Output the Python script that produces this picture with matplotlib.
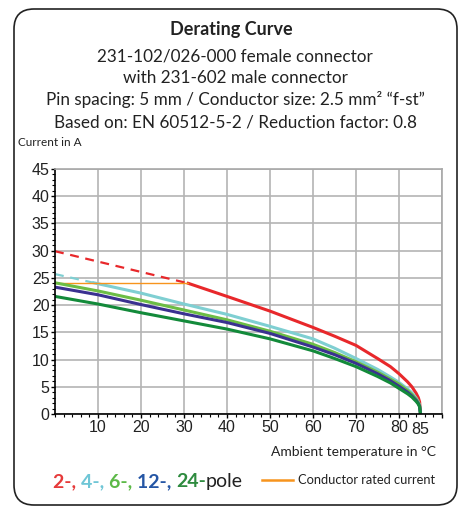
import matplotlib
matplotlib.use("Agg")
import matplotlib.pyplot as plt
from matplotlib.patches import FancyBboxPatch
from matplotlib.ticker import MultipleLocator

# Derating curve data
t_red_dash = [0, 31]
i_red_dash = [29.9, 24.0]
t_red = [31, 40, 50, 60, 65, 70, 75, 78, 80, 82, 83, 84, 84.5, 84.8, 85]
i_red = [24.0, 21.6, 18.9, 15.9, 14.3, 12.6, 10.2, 8.7, 7.4, 5.9, 5.0, 3.8, 3.0, 2.2, 0]

t_cyan_dash = [0, 9]
i_cyan_dash = [25.7, 24.1]
t_cyan = [9, 20, 30, 40, 50, 60, 65, 70, 75, 78, 80, 82, 83, 84, 84.5, 84.8, 85]
i_cyan = [24.1, 22.2, 20.2, 18.3, 16.1, 13.8, 12.1, 10.2, 8.2, 6.8, 5.8, 4.6, 3.9, 2.9, 2.2, 1.6, 0]

t_pole = [0, 10, 20, 30, 40, 50, 60, 65, 70, 75, 78, 80, 82, 83, 84, 84.5, 84.8, 85]
i_6 = [24.1, 22.6, 20.9, 19.1, 17.3, 15.2, 12.8, 11.3, 9.6, 7.7, 6.4, 5.5, 4.3, 3.6, 2.7, 2.1, 1.5, 0]
i_12 = [23.3, 21.9, 20.1, 18.4, 16.8, 14.8, 12.3, 10.9, 9.3, 7.4, 6.1, 5.1, 4.0, 3.3, 2.5, 1.9, 1.4, 0]
i_24 = [21.6, 20.2, 18.6, 17.1, 15.6, 13.8, 11.6, 10.2, 8.7, 6.9, 5.7, 4.7, 3.7, 3.1, 2.3, 1.8, 1.3, 0]

t_rated = [0, 31]
i_rated = [24, 24]

x_ticks = [10, 20, 30, 40, 50, 60, 70, 80, 90]
x_labels = ["10", "20", "30", "40", "50", "60", "70", "80", ""]
y_ticks = [0, 5, 10, 15, 20, 25, 30, 35, 40, 45]

c_red = "#e8282b"
c_cyan = "#7fcfd2"
c_green = "#6cbd45"
c_purple = "#3a3190"
c_dgreen = "#138a3a"
c_orange = "#f7941d"
c_text = "#222222"

hfont = "Lato"

fig = plt.figure(figsize=(4.63, 5.07), dpi=100)

# cadre arrondi
box = FancyBboxPatch((0.14, 0.02), 4.43, 4.96, boxstyle="round,pad=0,rounding_size=0.2",
                     transform=fig.dpi_scale_trans, fill=False, edgecolor=c_text, linewidth=1.2)
fig.patches.append(box)

fig.text(0.5, 1 - 30/507, "Derating Curve", ha="center", va="center", fontsize=13,
         fontweight="bold", family=hfont, color=c_text)
sub = ["231-102/026-000 female connector",
       "with 231-602 male connector",
       "Pin spacing: 5 mm / Conductor size: 2.5 mm\u00b2 \u201cf-st\u201d",
       "Based on: EN 60512-5-2 / Reduction factor: 0.8"]
for k, s in enumerate(sub):
    fig.text(0.508, 1 - (56 + k*22)/507, s, ha="center", va="center", fontsize=12.3,
             family=hfont, color=c_text)
fig.text(18/463, 1 - 143/507, "Current in A", ha="left", va="center", fontsize=8.5,
         family=hfont, color=c_text)

ax = fig.add_axes([55/463, 1 - 414/507, (442 - 55)/463, (414 - 169)/507])
ax.plot(t_red_dash, i_red_dash, color=c_red, lw=1.6, dashes=(4, 3))
ax.plot(t_red, i_red, color=c_red, lw=2.2)
ax.plot(t_cyan_dash, i_cyan_dash, color=c_cyan, lw=1.6, dashes=(4, 3))
ax.plot(t_cyan, i_cyan, color=c_cyan, lw=2.2)
ax.plot(t_rated, i_rated, color=c_orange, lw=1.0)
ax.plot(t_pole, i_6, color=c_green, lw=2.2)
ax.plot(t_pole, i_12, color=c_purple, lw=2.2)
ax.plot(t_pole, i_24, color=c_dgreen, lw=2.2)

ax.set_xlim(0, 90)
ax.set_ylim(0, 45)
ax.set_xticks(x_ticks)
ax.set_xticklabels(x_labels)
ax.set_yticks(y_ticks)
ax.xaxis.set_minor_locator(MultipleLocator(2))
ax.yaxis.set_minor_locator(MultipleLocator(1))
for s in ["top", "right"]:
    ax.spines[s].set_color("#a8a8a8")
    ax.spines[s].set_linewidth(1.2)
for s in ["left", "bottom"]:
    ax.spines[s].set_color("black")
    ax.spines[s].set_linewidth(1.2)
ax.grid(True, color="#b4b4b4", linewidth=1.2)
ax.set_axisbelow(True)
ax.tick_params(which="major", length=3, width=1, direction="out", pad=1, labelsize=11.5,
               labelcolor=c_text)
ax.tick_params(which="minor", length=2, width=0.8, direction="out")
for lab in ax.get_xticklabels() + ax.get_yticklabels():
    lab.set_family("Liberation Sans")
ax.text(85, -1.5, "85", ha="center", va="top", fontsize=11.5, family="Liberation Sans",
        color=c_text)

fig.text(436/463, 1 - 452/507, "Ambient temperature in \u00b0C", ha="right", va="center",
         fontsize=10, family=hfont, color=c_text)

# legende des poles, morceaux colores
parts = [("2-, ", "#e63a3a", "bold"), ("4-, ", "#6fc6d6", "bold"), ("6-, ", "#5cb947", "bold"),
         ("12-, ", "#2556a5", "bold"), ("24-", "#2e8b3f", "bold"), ("pole", c_text, "normal")]
prev = fig.text(53/463, 1 - 490/507, parts[0][0], ha="left", va="bottom", fontsize=14,
                family=hfont, color=parts[0][1], fontweight=parts[0][2])
for txt, col, wt in parts[1:]:
    prev = ax.annotate(txt, xy=(1, 0), xycoords=prev, va="bottom", ha="left", fontsize=14,
                       family=hfont, color=col, fontweight=wt, annotation_clip=False)

fig.add_artist(plt.Line2D([262/463, 293/463], [1 - 480/507, 1 - 480/507],
                          color=c_orange, lw=1.8))
fig.text(298/463, 1 - 480/507, "Conductor rated current", ha="left", va="center",
         fontsize=9.3, family=hfont, color=c_text)

fig.savefig("out.png", dpi=100)
